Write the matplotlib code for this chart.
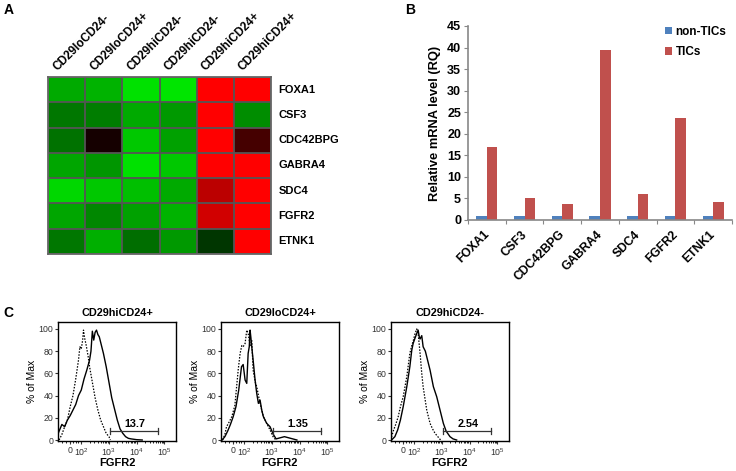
import numpy as np
import matplotlib
matplotlib.use("Agg")
import matplotlib.pyplot as plt
from matplotlib.colors import LinearSegmentedColormap

plt.rcParams["font.family"] = ["Liberation Sans", "DejaVu Sans"]
plt.rcParams["mathtext.fontset"] = "custom"
plt.rcParams["mathtext.rm"] = "Liberation Sans"
plt.rcParams["mathtext.default"] = "regular"

# ---- Panel A: heatmap data (negative = green, positive = red)
groups = ["CD29loCD24-", "CD29loCD24+", "CD29hiCD24-", "CD29hiCD24-", "CD29hiCD24+", "CD29hiCD24+"]
genes = ["FOXA1", "CSF3", "CDC42BPG", "GABRA4", "SDC4", "FGFR2", "ETNK1"]
expr = [
    [-0.74, -0.78, -0.98, -1.00, 1.00, 1.00],
    [-0.52, -0.54, -0.74, -0.67, 1.00, -0.61],
    [-0.50, 0.08, -0.87, -0.70, 1.00, 0.27],
    [-0.72, -0.65, -0.98, -0.87, 1.00, 1.00],
    [-0.93, -0.87, -0.83, -0.74, 0.73, 1.00],
    [-0.72, -0.59, -0.70, -0.78, 0.82, 1.00],
    [-0.52, -0.76, -0.48, -0.67, -0.24, 1.00],
]

# ---- Panel B: qPCR
non_tics = [1, 1, 1, 1, 1, 1, 1]
tics = [17.0, 5.0, 3.6, 39.5, 6.0, 23.6, 4.1]

# ---- Panel C: flow histograms (x in decade display units, y in % of max)
hist_titles = ["CD29hiCD24+", "CD29loCD24+", "CD29hiCD24-"]
gate_values = ["13.7", "1.35", "2.54"]

p1_solid_x = [1.12, 1.2, 1.3, 1.4, 1.5, 1.6, 1.7, 1.8, 1.9, 2.0, 2.1, 2.2, 2.3, 2.35, 2.4, 2.45,
              2.5, 2.55, 2.6, 2.65, 2.7, 2.8, 2.9, 3.0, 3.1, 3.2, 3.3, 3.4, 3.5, 3.6, 3.7, 3.8, 4.0, 4.2]
p1_solid_y = [3, 8, 14, 12, 18, 22, 27, 32, 40, 45, 55, 63, 72, 80, 98, 90,
              97, 99, 95, 93, 88, 78, 66, 52, 38, 28, 18, 10, 6, 3, 1.5, 1, 0.3, 0]
p1_dot_x = [1.2, 1.3, 1.4, 1.5, 1.6, 1.7, 1.8, 1.9, 1.95, 2.0, 2.05, 2.08, 2.12, 2.18, 2.25, 2.3,
            2.4, 2.5, 2.6, 2.7, 2.8, 2.9, 3.0, 3.05]
p1_dot_y = [0, 5, 12, 18, 30, 40, 55, 72, 84, 82, 90, 99, 92, 85, 75, 66,
            52, 38, 27, 18, 12, 6, 3, 0]

p2_solid_x = [1.2, 1.3, 1.4, 1.5, 1.6, 1.7, 1.8, 1.9, 1.96, 2.03, 2.09, 2.14, 2.18, 2.21, 2.24, 2.27,
              2.32, 2.39, 2.45, 2.51, 2.57, 2.63, 2.69, 2.81, 2.93, 3.05, 3.15, 3.3, 3.45, 3.6, 3.75, 3.9]
p2_solid_y = [0, 3, 8, 14, 21, 30, 45, 66, 68, 54, 51, 78, 84, 99, 92, 84,
              72, 54, 42, 33, 36, 27, 21, 15, 12, 5, 1, 2, 3, 2, 1, 0]
p2_dot_x = [1.22, 1.3, 1.36, 1.45, 1.55, 1.66, 1.78, 1.85, 1.91, 1.96, 2.03, 2.09, 2.14, 2.21, 2.27, 2.32,
            2.4, 2.45, 2.57, 2.69, 2.81, 2.95, 3.04, 3.14]
p2_dot_y = [0, 5, 12, 16, 21, 31, 63, 78, 85, 84, 87, 99, 96, 85, 90, 63,
            52, 48, 33, 21, 15, 8, 3, 0]

p3_solid_x = [1.18, 1.3, 1.4, 1.5, 1.6, 1.73, 1.84, 1.91, 1.96, 2.03, 2.09, 2.14, 2.18, 2.21, 2.27, 2.32,
              2.4, 2.45, 2.51, 2.57, 2.69, 2.81, 2.93, 3.05, 3.15, 3.29, 3.4, 3.53]
p3_solid_y = [0, 3, 9, 18, 30, 48, 66, 81, 87, 92, 96, 99, 93, 91, 94, 84,
              80, 75, 69, 63, 48, 39, 27, 15, 8, 3, 1, 0]
p3_dot_x = [1.15, 1.24, 1.33, 1.42, 1.5, 1.6, 1.73, 1.84, 1.91, 1.97, 2.03, 2.09, 2.14, 2.21, 2.27, 2.32,
            2.45, 2.57, 2.66, 2.75, 2.85, 2.95]
p3_dot_y = [0, 8, 14, 21, 30, 39, 57, 78, 85, 90, 96, 100, 96, 78, 60, 48,
            27, 15, 10, 6, 3, 0]

solid_curves = [(p1_solid_x, p1_solid_y), (p2_solid_x, p2_solid_y), (p3_solid_x, p3_solid_y)]
dotted_curves = [(p1_dot_x, p1_dot_y), (p2_dot_x, p2_dot_y), (p3_dot_x, p3_dot_y)]

W, H = 736, 471
fig = plt.figure(figsize=(W / 100, H / 100), dpi=100)


def box(l, t, r, b):
    return [l / W, 1 - b / H, (r - l) / W, (b - t) / H]


# ---------------- A: heatmap
axA = fig.add_axes(box(48, 77, 271, 254))
cmap = LinearSegmentedColormap.from_list("gbr", [(0, 0.9, 0), (0, 0, 0), (1, 0, 0)])
axA.imshow(np.array(expr), cmap=cmap, vmin=-1, vmax=1, aspect="auto", interpolation="nearest")
axA.set_xticks(np.arange(-0.5, len(groups)), minor=True)
axA.set_yticks(np.arange(-0.5, len(genes)), minor=True)
axA.grid(which="minor", color="#555555", lw=1.3)
axA.tick_params(which="both", length=0, labelbottom=False, labelleft=False)
axA.set_xticks([])
axA.set_yticks([])
for s in axA.spines.values():
    s.set_color("#666666")
    s.set_linewidth(1.3)
for i, g in enumerate(groups):
    axA.text(i - 0.2, -0.65, g, rotation=45, rotation_mode="anchor", ha="left", va="bottom",
             fontsize=8.5, fontweight="bold")
for j, g in enumerate(genes):
    axA.text(len(groups) - 0.5 + 0.2, j, g, ha="left", va="center", fontsize=8, fontweight="bold")

# ---------------- B: bar chart
axB = fig.add_axes(box(468, 26, 732, 220))
x = np.arange(len(genes))
axB.bar(x - 0.14, non_tics, 0.28, color="#4F81BD", label="non-TICs")
axB.bar(x + 0.14, tics, 0.28, color="#C0504D", label="TICs")
axB.set_xlim(-0.5, len(genes) - 0.5)
axB.set_ylim(0, 45)
axB.set_yticks(np.arange(0, 46, 5))
axB.set_xticks(np.arange(-0.5, len(genes)))
axB.set_xticklabels([])
axB.set_xticks(x - 0.1, minor=True)
axB.set_xticklabels(genes, minor=True, rotation=45, ha="right", rotation_mode="anchor",
                    fontsize=8.7, fontweight="bold")
axB.tick_params(axis="x", which="minor", length=0, pad=6)
axB.tick_params(axis="x", which="major", length=3, color="#888888")
axB.tick_params(axis="y", length=3, color="#888888", labelsize=9, pad=2)
for lab in axB.get_yticklabels():
    lab.set_fontweight("bold")
for s in ["top", "right"]:
    axB.spines[s].set_visible(False)
for s in ["left", "bottom"]:
    axB.spines[s].set_color("#888888")
    axB.spines[s].set_linewidth(1.2)
axB.set_ylabel("Relative mRNA level (RQ)", fontsize=9.3, fontweight="bold", labelpad=4)
fig.legend(loc="upper left", bbox_to_anchor=(659 / W, 1 - 20 / H), frameon=False,
           handlelength=0.6, handleheight=0.6, handletextpad=0.3, labelspacing=0.7,
           borderpad=0, prop={"size": 8.5, "weight": "bold"})

# ---------------- C: flow histograms
lefts = [58, 221, 391]
minor_ticks = [1.3, 1.45, 1.7, 1.8, 1.9] + [n + np.log10(k) for n in (2, 3, 4) for k in range(2, 10)]
for k, l in enumerate(lefts):
    ax = fig.add_axes(box(l, 322, l + 118, 441))
    sx, sy = solid_curves[k]
    dx, dy = dotted_curves[k]
    ax.plot(dx, dy, color="black", lw=0.9, linestyle=(0, (1.2, 1.2)))
    ax.plot(sx, sy, color="black", lw=1.0)
    ax.set_xlim(1.16, 5.42)
    ax.set_ylim(-0.9, 106.3)
    ax.set_yticks([0, 20, 40, 60, 80, 100])
    ax.set_xticks([1.59, 2, 3, 4, 5])
    ax.set_xticklabels(["0", "$10^2$", "$10^3$", "$10^4$", "$10^5$"])
    ax.set_xticks(minor_ticks, minor=True)
    ax.tick_params(axis="both", labelsize=6.3, colors="#333333", length=2.5, width=0.8, pad=1)
    ax.tick_params(axis="x", which="minor", length=1.5, width=0.6)
    for s in ax.spines.values():
        s.set_linewidth(1.0)
    ax.set_title(hist_titles[k], fontsize=7.8, fontweight="bold", pad=4)
    ax.set_xlabel("FGFR2", fontsize=8, fontweight="bold", labelpad=0.5)
    ax.set_ylabel("% of Max", fontsize=7.5, labelpad=1)
    # gate bracket
    ax.plot([3.05, 4.77], [8, 8], color="#333333", lw=0.9)
    ax.plot([3.05, 3.05], [5, 11], color="#333333", lw=0.9)
    ax.plot([4.77, 4.77], [5, 11], color="#333333", lw=0.9)
    ax.text(3.95, 9.5, gate_values[k], ha="center", va="bottom", fontsize=7.8, fontweight="bold")

# panel letters
fig.text(9 / W, 1 - 10 / H, "A", fontsize=10, fontweight="bold", ha="center", va="center")
fig.text(410 / W, 1 - 10 / H, "B", fontsize=10, fontweight="bold", ha="center", va="center")
fig.text(8 / W, 1 - 313 / H, "C", fontsize=10, fontweight="bold", ha="center", va="center")

fig.savefig("out.png", dpi=100)
